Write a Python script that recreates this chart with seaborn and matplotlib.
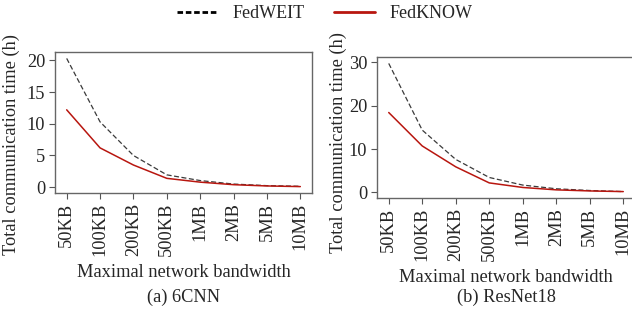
import matplotlib
matplotlib.use("Agg")
import matplotlib.pyplot as plt
import seaborn as sns
import pandas as pd
from matplotlib.lines import Line2D

bandwidths = ["50KB", "100KB", "200KB", "500KB", "1MB", "2MB", "5MB", "10MB"]

cnn_fedweit = [20.3, 10.3, 5.0, 1.95, 1.05, 0.5, 0.25, 0.15]
cnn_fedknow = [12.2, 6.2, 3.5, 1.4, 0.8, 0.4, 0.2, 0.1]

resnet_fedweit = [29.7, 14.35, 7.6, 3.45, 1.7, 0.85, 0.45, 0.2]
resnet_fedknow = [18.4, 10.7, 5.9, 2.2, 1.15, 0.6, 0.35, 0.2]

sns.set_style("ticks")
plt.rcParams["font.family"] = ["Liberation Serif", "DejaVu Serif"]

RED = "#b8160f"
GRAY = "#3a3a3a"
FS = 13.2

fig = plt.figure(figsize=(6.32, 3.10), dpi=100)
# right panel runs a little past the figure edge, as in the original crop
ax1 = fig.add_axes([55 / 632, 1 - 193 / 310, 257 / 632, 141 / 310])
ax2 = fig.add_axes([377 / 632, 1 - 198 / 310, 258 / 632, 141 / 310])

panels = [
    (ax1, cnn_fedweit, cnn_fedknow, "(a) 6CNN", [0, 5, 10, 15, 20], (-0.138, 0.34)),
    (ax2, resnet_fedweit, resnet_fedknow, "(b) ResNet18", [0, 10, 20, 30], (-0.115, 0.39)),
]

for ax, weit, know, caption, yticks, ylab_xy in panels:
    df = pd.DataFrame({"bw": bandwidths, "weit": weit, "know": know})
    sns.lineplot(data=df, x="bw", y="weit", ax=ax, color=GRAY,
                 linestyle=(0, (4, 2)), linewidth=0.9, sort=False)
    sns.lineplot(data=df, x="bw", y="know", ax=ax, color=RED,
                 linewidth=1.1, sort=False)
    ax.set_yticks(yticks)
    ax.tick_params(axis="x", labelrotation=90, labelsize=FS, length=4, color="#555555", pad=3)
    ax.tick_params(axis="y", labelsize=FS, length=4, color="#555555", pad=3)
    for s in ax.spines.values():
        s.set_color("#666666")
        s.set_linewidth(1.0)
    ax.set_ylabel("Total communication time (h)", fontsize=FS)
    ax.yaxis.set_label_coords(*ylab_xy)
    ax.set_xlabel("Maximal network bandwidth", fontsize=FS, labelpad=6)
    pos = ax.get_position()
    fig.text((pos.x0 + pos.x1) / 2, 1 - 297 / 310, caption, ha="center", va="center", fontsize=FS)

handles = [
    Line2D([], [], color="black", linestyle=(0, (2, 1)), linewidth=2),
    Line2D([], [], color=RED, linewidth=2),
]
fig.legend(handles, ["FedWEIT", "FedKNOW"], loc="upper center", bbox_to_anchor=(0.514, 1.035),
           ncol=2, frameon=False, fontsize=13, handlelength=2.3, columnspacing=1.6)

fig.savefig("out.png", dpi=100)
